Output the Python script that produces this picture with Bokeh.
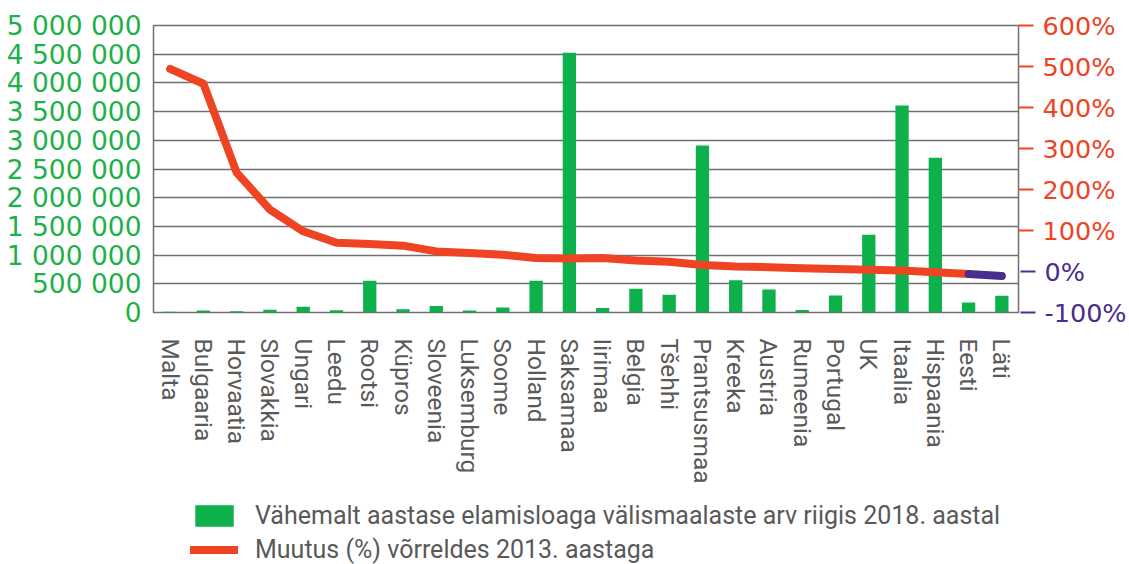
from bokeh.plotting import figure
from bokeh.layouts import column
from bokeh.models import (Range1d, FactorRange, LinearAxis, FixedTicker,
                          Legend, LegendItem, ColumnDataSource)
from bokeh.embed import file_html
from bokeh.resources import INLINE

countries = ["Malta", "Bulgaaria", "Horvaatia", "Slovakkia", "Ungari", "Leedu", "Rootsi",
             "Küpros", "Sloveenia", "Luksemburg", "Soome", "Holland", "Saksamaa", "Iirimaa",
             "Belgia", "Tšehhi", "Prantsusmaa", "Kreeka", "Austria", "Rumeenia", "Portugal",
             "UK", "Itaalia", "Hispaania", "Eesti", "Läti"]

residents_2018 = [15000, 35000, 20000, 50000, 100000, 40000, 552000, 55000, 115000, 35000,
                  85000, 552000, 4524000, 80000, 412000, 308000, 2909000, 563000, 400000,
                  45000, 296000, 1353000, 3606000, 2695000, 174000, 290000]

change_pct = [494, 458, 241, 151, 98, 70, 67, 63, 49, 45, 41, 33, 32, 33, 27, 24, 16, 12,
              10.5, 8, 6, 4, 2.5, -2, -6, -11]

left_ticks = [0, 500000, 1000000, 1500000, 2000000, 2500000, 3000000, 3500000, 4000000,
              4500000, 5000000]
left_tick_labels = ["0", "500 000", "1 000 000", "1 500 000", "2 000 000", "2 500 000",
                    "3 000 000", "3 500 000", "4 000 000", "4 500 000", "5 000 000"]

red_ticks = [100, 200, 300, 400, 500, 600]
red_tick_labels = ["100%", "200%", "300%", "400%", "500%", "600%"]
purple_ticks = [-100, 0]
purple_tick_labels = ["-100%", "0%"]

legend_labels = ["Vähemalt aastase elamisloaga välismaalaste arv riigis 2018. aastal",
                 "Muutus (%) võrreldes 2013. aastaga"]

GREEN = "#0DB04B"
AXIS_GREEN = "#1DB14B"
RED = "#EE4424"
PURPLE = "#4B2C8F"
GRID = "#707070"
TEXT = "#595959"
NUM_FONT = "DejaVu Sans"
TXT_FONT = "Roboto"

W = 1129
H_MAIN, H_LEG = 500, 64
BL, BR, BT, BB = 153, 104, 25, 188
RED_AXIS_W = 98  # width of the red right-axis panel (measured)

p = figure(width=W, height=H_MAIN, x_range=FactorRange(*countries, range_padding=0),
           y_range=Range1d(0, 5000000), output_backend="svg", toolbar_location=None,
           min_border_left=BL, min_border_right=BR, min_border_top=BT, min_border_bottom=BB)
p.extra_y_ranges = {"pct": Range1d(-100, 600)}

src = ColumnDataSource(dict(country=countries, residents=residents_2018))
p.vbar(x="country", top="residents", width=0.4, source=src,
       fill_color=GREEN, line_color=None)

n_red = countries.index("Eesti") + 1
p.line(x=countries[:n_red], y=change_pct[:n_red], y_range_name="pct",
       line_color=RED, line_width=8, line_cap="round", line_join="round")
p.line(x=countries[n_red - 1:], y=change_pct[n_red - 1:], y_range_name="pct",
       line_color=PURPLE, line_width=8, line_cap="round", line_join="round")

# frame and grid
p.outline_line_color = GRID
p.outline_line_width = 1.5
p.xgrid.visible = False
p.ygrid.ticker = FixedTicker(ticks=left_ticks)
p.ygrid.grid_line_color = GRID
p.ygrid.grid_line_width = 1.5

# left axis
ya = p.yaxis[0]
ya.ticker = FixedTicker(ticks=left_ticks)
ya.major_label_overrides = dict(zip(left_ticks, left_tick_labels))
ya.axis_line_color = None
ya.major_tick_line_color = None
ya.minor_tick_line_color = None
ya.major_label_text_color = AXIS_GREEN
ya.major_label_text_font = NUM_FONT
ya.major_label_text_font_size = "26.5px"
ya.major_label_standoff = 6

# x axis
xa = p.xaxis[0]
xa.major_label_orientation = "vertical"
xa.major_label_standoff = 20
xa.axis_line_color = None
xa.major_tick_line_color = None
xa.major_label_text_color = TEXT
xa.major_label_text_font = TXT_FONT
xa.major_label_text_font_size = "24.5px"

# right axis, red part (100% .. 600%)
ra = LinearAxis(y_range_name="pct", ticker=FixedTicker(ticks=red_ticks),
                major_label_overrides=dict(zip(red_ticks, red_tick_labels)),
                major_tick_out=15, major_tick_in=0, major_tick_line_color=RED,
                major_tick_line_width=2, axis_line_color=None, minor_tick_line_color=None,
                major_label_text_color=RED, major_label_text_font=NUM_FONT,
                major_label_text_font_size="25.5px", major_label_standoff=9)
p.add_layout(ra, "right")

# right axis, purple part (-100%, 0%), drawn back onto the same column
pa = LinearAxis(y_range_name="pct", ticker=FixedTicker(ticks=purple_ticks),
                major_label_overrides=dict(zip(purple_ticks, purple_tick_labels)),
                major_tick_in=RED_AXIS_W, major_tick_out=-(RED_AXIS_W - 15),
                major_tick_line_color=PURPLE, major_tick_line_width=2,
                axis_line_color=None, minor_tick_line_color=None,
                major_label_text_color=PURPLE, major_label_text_font=NUM_FONT,
                major_label_text_font_size="25.5px", major_label_standoff=24 - RED_AXIS_W)
p.add_layout(pa, "right")

# legend strip below the chart (its renderers only supply the legend swatches
# and lie far outside the strip's visible range)
q = figure(width=W, height=H_LEG, x_range=p.x_range, y_range=Range1d(1e10, 2e10),
           output_backend="svg", toolbar_location=None,
           min_border_left=0, min_border_right=0, min_border_top=0, min_border_bottom=0)
q.axis.visible = False
q.grid.visible = False
q.outline_line_color = None
leg_bar = q.vbar(x="country", top="residents", width=0, source=src,
                 fill_color=GREEN, line_color=None)
leg_line = q.line(x=countries, y=change_pct, line_color=RED, line_width=8,
                  line_cap="round")

legend = Legend(items=[LegendItem(label=legend_labels[0], renderers=[leg_bar]),
                       LegendItem(label=legend_labels[1], renderers=[leg_line])],
                location=(37, 0), orientation="vertical",
                glyph_width=48, glyph_height=27, label_height=30, label_standoff=17,
                spacing=4, padding=0, margin=0, border_line_color=None,
                background_fill_alpha=0, label_text_font=TXT_FONT,
                label_text_font_size="25px", label_text_color=TEXT)
q.add_layout(legend)

layout = column(p, q, spacing=0)
open("out.html", "w").write(file_html(layout, INLINE))
